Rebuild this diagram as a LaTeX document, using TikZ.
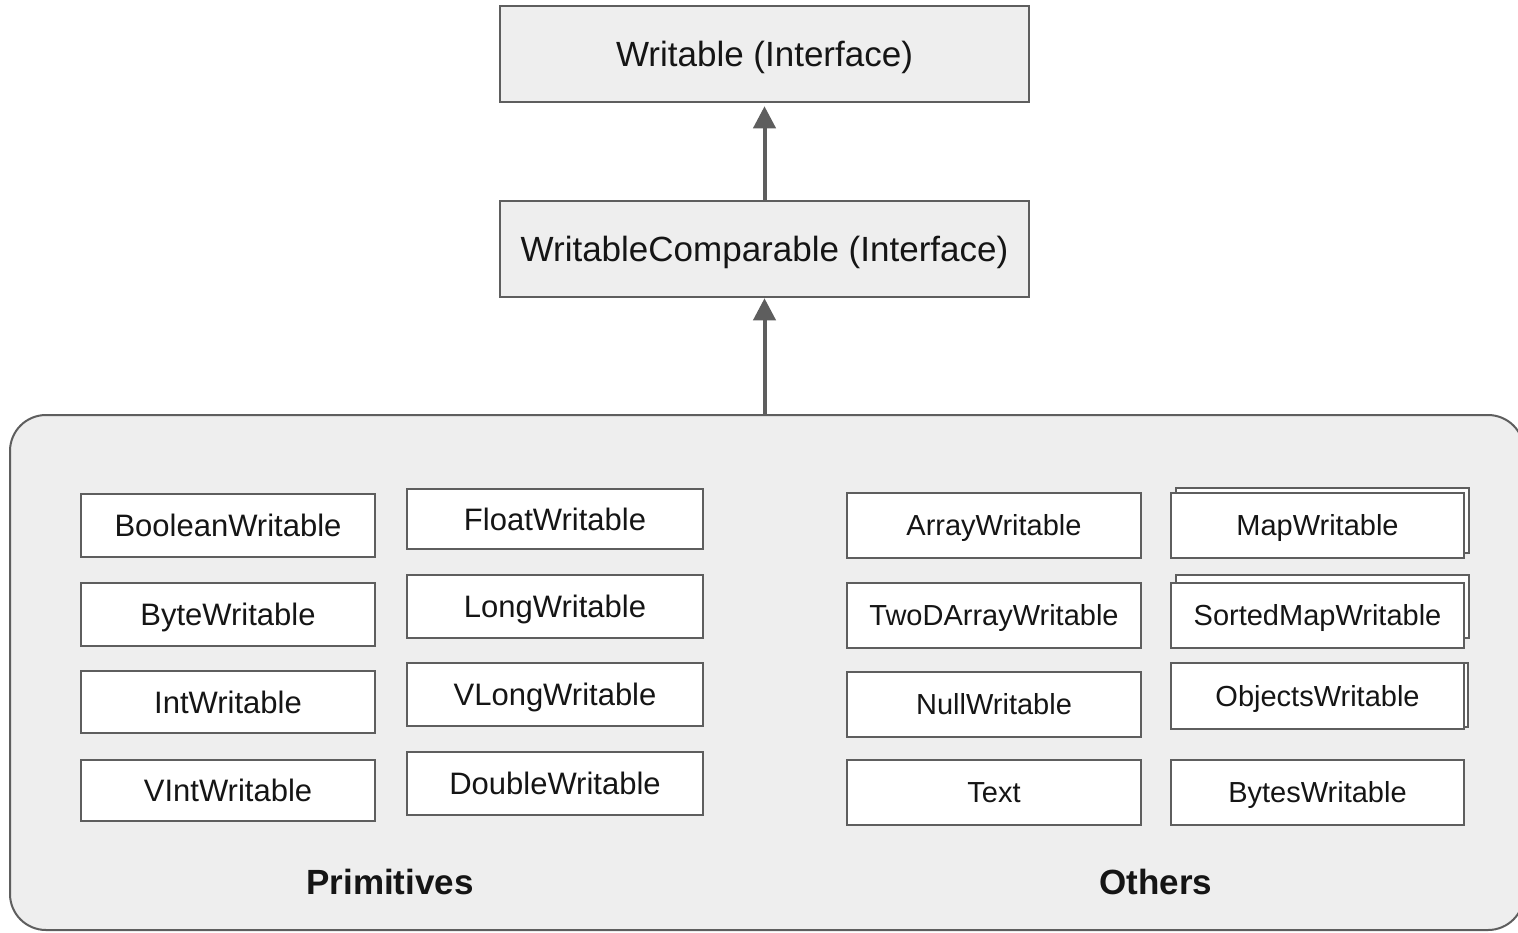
\documentclass[tikz,border=0pt]{standalone}
\usepackage{fontspec}
\setmainfont{Liberation Sans}
\usetikzlibrary{arrows.meta}
\definecolor{edge}{HTML}{5E5E5E}
\definecolor{panel}{HTML}{EEEEEE}
\definecolor{ink}{HTML}{151515}
\tikzset{
  iface/.style={draw=edge, line width=2.5pt, fill=panel, text=ink, minimum width=529pt, minimum height=96pt, inner sep=0pt, text height=25pt, text depth=0pt, font=\fontsize{35}{42}\selectfont},
  grp/.style={draw=edge, line width=2pt, fill=panel, rounded corners=36pt, minimum width=1514pt, minimum height=515pt, inner sep=0pt},
  pbox/.style={draw=edge, line width=2pt, fill=white, text=ink, inner sep=0pt, text height=22.3pt, text depth=0pt, font=\fontsize{31}{37}\selectfont},
  obox/.style={draw=edge, line width=2pt, fill=white, text=ink, inner sep=0pt, text height=20.8pt, text depth=0pt, minimum width=294pt, minimum height=65pt, font=\fontsize{29}{35}\selectfont},
  backbox/.style={draw=edge, line width=2pt, fill=white},
  arr/.style={draw=edge, line width=4pt, -{Triangle[width=22pt,length=22pt]}},
  glabel/.style={text=ink, font=\bfseries\fontsize{35}{42}\selectfont, inner sep=0pt, text height=25pt, text depth=0pt},
}
\begin{document}
\begin{tikzpicture}[x=1pt,y=-1pt]
\useasboundingbox (0,0) rectangle (1518,932);
% group panel
\node[grp] (grp) at (767,672.5) {};
% interfaces
\node[iface] (w) at (764.5,54) {Writable (Interface)};
\node[iface] (wc) at (764.5,249) {WritableComparable (Interface)};
\draw[arr] (wc.north) -- ([yshift=-3pt]w.south);
\draw[arr] (grp.north -| wc.south) -- (wc.south);
% primitives, left column
\node[pbox, minimum width=294pt, minimum height=63pt] (bool) at (228,525.5) {BooleanWritable};
\node[pbox, minimum width=294pt, minimum height=63pt] (byte) at (228,614.5) {ByteWritable};
\node[pbox, minimum width=294pt, minimum height=62pt] (int) at (228,702) {IntWritable};
\node[pbox, minimum width=294pt, minimum height=61pt] (vint) at (228,790.5) {VIntWritable};
% primitives, right column
\node[pbox, minimum width=296pt, minimum height=60pt] (float) at (555,519) {FloatWritable};
\node[pbox, minimum width=296pt, minimum height=63pt] (long) at (555,606.5) {LongWritable};
\node[pbox, minimum width=296pt, minimum height=63pt] (vlong) at (555,694.5) {VLongWritable};
\node[pbox, minimum width=296pt, minimum height=63pt] (double) at (555,783.5) {DoubleWritable};
% others, left column
\node[obox] (array) at (994,525.5) {ArrayWritable};
\node[obox] (twod) at (994,615) {TwoDArrayWritable};
\node[obox] (null) at (994,704) {NullWritable};
\node[obox] (text) at (994,792.5) {Text};
% others, right column (with back outlines)
\draw[backbox] (1176,488) rectangle (1469,553);
\draw[backbox] (1176,575) rectangle (1469,638);
\draw[backbox] (1176,663) rectangle (1468,727);
\node[obox, minimum width=293pt] (map) at (1317.5,525.5) {MapWritable};
\node[obox, minimum width=293pt] (smap) at (1317.5,615) {SortedMapWritable};
\node[obox, minimum width=293pt, minimum height=66pt] (objs) at (1317.5,696) {ObjectsWritable};
\node[obox, minimum width=293pt] (bytes) at (1317.5,792.5) {BytesWritable};
% group labels
\node[glabel] (prim) at (390,882) {Primitives};
\node[glabel] (oth) at (1156,882) {Others};
\end{tikzpicture}
\end{document}
